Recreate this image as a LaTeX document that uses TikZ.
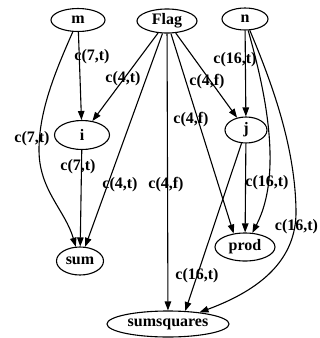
\documentclass[tikz,border=0pt]{standalone}
\usepackage{fontspec}
\setmainfont{Liberation Serif}
\usetikzlibrary{shapes.geometric,arrows.meta}
\begin{document}
\begin{tikzpicture}[x=1pt,y=-1pt,
  every node/.style={font=\fontsize{16}{18}\selectfont\bfseries, inner sep=0pt},
  vnode/.style={draw, ellipse, line width=1.1pt},
  lbl/.style={},
  edge/.style={draw, line width=1.1pt, -{Triangle[length=9pt,width=6.5pt]}}]
\useasboundingbox (0,0) rectangle (320,338);
% nodes
\node[vnode, minimum width=54pt, minimum height=23pt] (m) at (78,20) {m};
\node[vnode, minimum width=60pt, minimum height=24pt] (Flag) at (167,21) {Flag};
\node[vnode, minimum width=46pt, minimum height=22pt] (n) at (245,19) {n};
\node[vnode, minimum width=55pt, minimum height=29pt] (i) at (82,135) {i};
\node[vnode, minimum width=42pt, minimum height=26pt] (j) at (246,130) {j};
\node[vnode, minimum width=47pt, minimum height=28pt] (sum) at (80,261) {sum};
\node[vnode, minimum width=60pt, minimum height=28pt] (prod) at (245,247) {prod};
\node[vnode, minimum width=122pt, minimum height=26pt] (ss) at (168,324) {sumsquares};
% edges
\draw[edge] (m) -- (i);
\draw[edge] (m) .. controls (56,70) and (39,110) .. (39,150) .. controls (39,190) and (65,210) .. (sum);
\draw[edge] (i) -- (sum);
\draw[edge] (Flag) -- (i);
\draw[edge] (Flag) -- (sum);
\draw[edge] (Flag) -- (ss);
\draw[edge] (Flag) -- (prod.130);
\draw[edge] (Flag) -- (j);
\draw[edge] (n) -- (j);
\draw[edge] (j) -- (prod);
\draw[edge] (j) -- (ss.37);
\draw[edge] (n) .. controls (262,80) and (285,170) .. (prod);
\draw[edge] (n) .. controls (275,90) and (295,150) .. (296,210) .. controls (297,260) and (260,290) .. (ss);
% labels
\node[lbl] (l1) at (92,57) {c(7,t)};
\node[lbl] (l2) at (32,139) {c(7,t)};
\node[lbl] (l3) at (123,79) {c(4,t)};
\node[lbl] (l4) at (78,167) {c(7,t)};
\node[lbl] (l5) at (120,185) {c(4,t)};
\node[lbl] (l6) at (166,185) {c(4,f)};
\node[lbl] (l7) at (191,120) {c(4,f)};
\node[lbl] (l8) at (207,82) {c(4,f)};
\node[lbl] (l9) at (235,60) {c(16,t)};
\node[lbl] (l10) at (267,183) {c(16,t)};
\node[lbl] (l11) at (296.5,227) {c(16,t)};
\node[lbl] (l12) at (197,276) {c(16,t)};
\end{tikzpicture}
\end{document}
